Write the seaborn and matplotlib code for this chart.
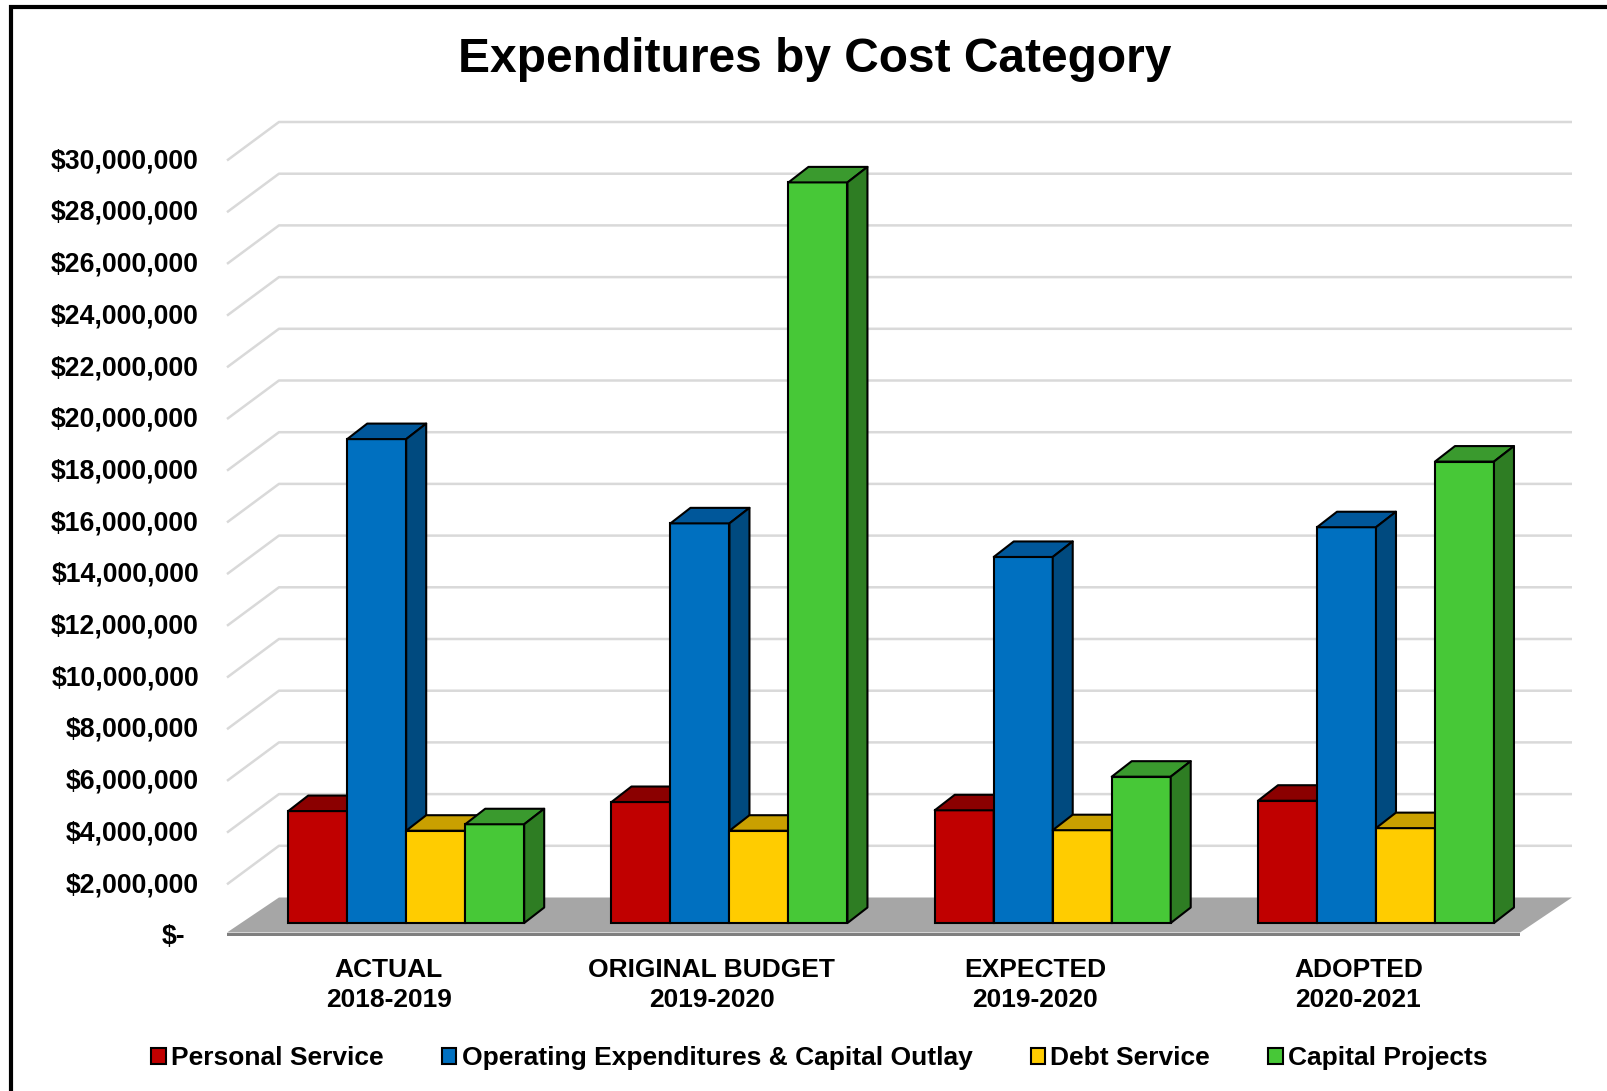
import numpy as np
import pandas as pd
import matplotlib
matplotlib.use("Agg")
import matplotlib.pyplot as plt
from matplotlib.patches import Polygon, Patch, Rectangle
from matplotlib.colors import to_rgba
import seaborn as sns

# ---------------- data ----------------
periods = ["ACTUAL\n2018-2019", "ORIGINAL BUDGET\n2019-2020",
           "EXPECTED\n2019-2020", "ADOPTED\n2020-2021"]
series = ["Personal Service", "Operating Expenditures & Capital Outlay",
          "Debt Service", "Capital Projects"]
personal_service = [4.33e6, 4.68e6, 4.36e6, 4.73e6]
operating_capital_outlay = [18.72e6, 15.46e6, 14.16e6, 15.31e6]
debt_service = [3.57e6, 3.57e6, 3.59e6, 3.67e6]
capital_projects = [3.82e6, 28.65e6, 5.66e6, 17.85e6]
tick_values = list(range(0, 30_000_001, 2_000_000))
tick_labels = ["$-"] + [f"${v:,}" for v in tick_values[1:]]
title = "Expenditures by Cost Category"

front_colors = ["#C00000", "#0070C0", "#FFCC00", "#47C837"]
top_colors = ["#8B0000", "#00579A", "#C9A000", "#3A9A2E"]
side_colors = ["#7A0000", "#004A7F", "#B08C00", "#2E7D23"]

values_by_series = [personal_service, operating_capital_outlay, debt_service, capital_projects]
df = pd.DataFrame([{"Period": p, "Category": s, "Value": v}
                   for s, vals in zip(series, values_by_series)
                   for p, v in zip(periods, vals)])

# ---------------- style ----------------
sns.set_style("white")
plt.rcParams["font.family"] = ["Liberation Sans", "DejaVu Sans"]
plt.rcParams["font.weight"] = "bold"
plt.rcParams["text.color"] = "black"

W, H = 1608, 1091
fig = plt.figure(figsize=(W / 100, H / 100), dpi=100)
fig.patch.set_facecolor("white")

# axes spans floor front-left (227,936) to back-right top (1572,122) in pixels
ax_l, ax_r, ax_b, ax_t = 227, 1572, 936, 122
ax = fig.add_axes([ax_l / W, 1 - ax_b / H, (ax_r - ax_l) / W, (ax_b - ax_t) / H])

# 3D offsets (data units), relative to the plane of the bar fronts
px_x = 323.5          # pixels per category
px_y = 25.85 / 1e6    # pixels per dollar
bar_dx, bar_dy = 20 / px_x, 15.5 / px_y
front_dx, front_dy = -17.6 / px_x, -13 / px_y
back_dx, back_dy = 34.4 / px_x, 25.5 / px_y

sns.barplot(data=df, x="Period", y="Value", hue="Category", order=periods,
            hue_order=series, palette=front_colors, saturation=1, width=0.73,
            edgecolor="black", linewidth=1.5, legend=False, ax=ax, zorder=3)

n = len(periods)
x_left_f, x_right_f = -0.5 + front_dx, n - 0.5 + front_dx
x_left_b, x_right_b = -0.5 + back_dx, n - 0.5 + back_dx

# floor
slab = 3.5 / px_y
floor = Polygon([(x_left_f, front_dy + slab), (x_right_f, front_dy + slab),
                 (x_right_b, back_dy), (x_left_b, back_dy)],
                closed=True, facecolor="#A6A6A6", edgecolor="none", zorder=1)
ax.add_patch(floor)
floor_edge = Polygon([(x_left_f, front_dy), (x_right_f, front_dy),
                      (x_right_f, front_dy + slab), (x_left_f, front_dy + slab)],
                     closed=True, facecolor="#7F7F7F", edgecolor="none", zorder=1)
ax.add_patch(floor_edge)

# gridlines (left wall diagonal + back plane horizontal)
for v in tick_values[1:]:
    ax.plot([x_left_f, x_left_b, x_right_b], [v + front_dy, v + back_dy, v + back_dy],
            color="#D9D9D9", lw=1.8, zorder=0.5, clip_on=False, solid_capstyle="butt")

# 3D faces on bars
rgba_front = [to_rgba(c) for c in front_colors]
for p in list(ax.patches):
    if not isinstance(p, Rectangle):
        continue
    fc = p.get_facecolor()
    k = int(np.argmin([sum((a - b) ** 2 for a, b in zip(fc, c)) for c in rgba_front]))
    x0, w, h = p.get_x(), p.get_width(), p.get_height()
    p.set_zorder(3 + k)
    top = Polygon([(x0, h), (x0 + w, h), (x0 + w + bar_dx, h + bar_dy), (x0 + bar_dx, h + bar_dy)],
                  closed=True, facecolor=top_colors[k], edgecolor="black", lw=1.5,
                  joinstyle="round", zorder=3 + k + 0.01, clip_on=False)
    side = Polygon([(x0 + w, 0), (x0 + w, h), (x0 + w + bar_dx, h + bar_dy), (x0 + w + bar_dx, bar_dy)],
                   closed=True, facecolor=side_colors[k], edgecolor="black", lw=1.5,
                   joinstyle="round", zorder=3 + k + 0.02, clip_on=False)
    ax.add_patch(top)
    ax.add_patch(side)

ax.set_xlim(x_left_f, x_right_b)
ax.set_ylim(front_dy, 30e6 + back_dy)
ax.set_axis_off()

# y tick labels on front plane
ytr = ax.get_yaxis_transform()
for v, lab in zip(tick_values, tick_labels):
    xoff = -42 if v == 0 else -28
    ax.text(xoff / (ax_r - ax_l), v + front_dy - 0.03e6, lab, transform=ytr, ha="right",
            va="center", fontsize=19.2, fontweight="bold", color="black", clip_on=False)

# category labels
xtr = ax.get_xaxis_transform()
for i, lab in enumerate(periods):
    ax.text(i + front_dx, (936 - 985) / (ax_b - ax_t), lab, transform=xtr,
            ha="center", va="center", multialignment="center", linespacing=1.28,
            fontsize=19, fontweight="bold", color="black", clip_on=False)

# title
fig.text(815 / W, 1 - 59 / H, title, ha="center", va="center",
         fontsize=34.5, fontweight="bold", color="black")

# legend
handles = [Patch(facecolor=c, edgecolor="black", lw=1.5) for c in front_colors]
leg = fig.legend(handles, series, loc="center", bbox_to_anchor=(819.5 / W, 1 - 1058 / H),
                 ncol=4, frameon=False, prop={"size": 19, "weight": "bold"},
                 handlelength=0.55, handleheight=0.55, handletextpad=0.2, columnspacing=2.2,
                 borderaxespad=0)
for t in leg.get_texts():
    t.set_color("black")

# figure border (left and top visible)
fig.add_artist(Rectangle((11.5 / W, -0.1), 1.2, 1.1 - 6.5 / H, transform=fig.transFigure,
                         fill=False, edgecolor="black", lw=3, clip_on=False))

fig.savefig("out.png", dpi=100, facecolor="white")
